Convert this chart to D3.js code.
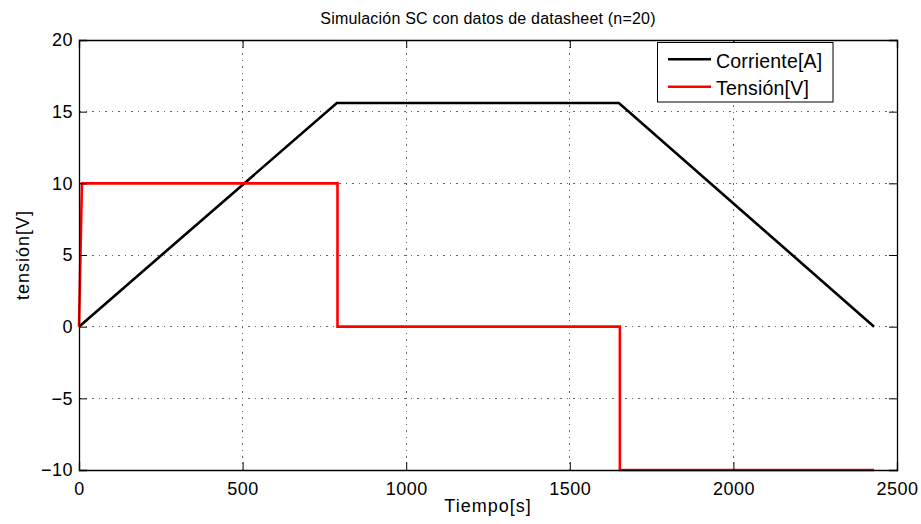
<!DOCTYPE html>
<html><head><meta charset="utf-8">
<script src="https://cdn.jsdelivr.net/npm/d3@7"></script>
<style>body{margin:0;background:#fff;} svg{display:block;font-family:"Liberation Sans",Arial,sans-serif;}</style>
</head><body>
<svg id="c" width="921" height="524"></svg>
<script>
const xTicks = [0, 500, 1000, 1500, 2000, 2500];
const yTicks = [-10, -5, 0, 5, 10, 15, 20];
const corrienteT = [0, 788, 1650, 2430];
const corrienteV = [0, 15.6, 15.6, 0];
const tensionT = [0, 9, 790, 790, 1653, 1653, 2430];
const tensionV = [0, 10, 10, 0, 0, -10, -10];
const seriesNames = ["Corriente[A]", "Tensión[V]"];
const seriesColors = ["#000000", "#ff0000"];

const svg = d3.select("#c");
const L = 79, R = 897, T = 40, B = 470;
const x = d3.scaleLinear().domain([0, 2500]).range([L, R]);
const y = d3.scaleLinear().domain([-10, 20]).range([B, T]);

// grid
const g = svg.append("g");
xTicks.forEach(t => { if (t > 0 && t < 2500) g.append("line").attr("x1", x(t)).attr("x2", x(t)).attr("y1", T).attr("y2", B).attr("stroke", "#666").attr("stroke-width", 1).attr("stroke-dasharray", "1.5,5").attr("shape-rendering","crispEdges"); });
yTicks.forEach(t => { if (t > -10 && t < 20) g.append("line").attr("x1", L).attr("x2", R).attr("y1", y(t)).attr("y2", y(t)).attr("stroke", "#666").attr("stroke-width", 1).attr("stroke-dasharray", "1.5,5").attr("shape-rendering","crispEdges"); });

// lines
const line = d3.line().x(d => x(d[0])).y(d => y(d[1]));
svg.append("path").datum(corrienteT.map((t, i) => [t, corrienteV[i]])).attr("d", line).attr("fill", "none").attr("stroke", seriesColors[0]).attr("stroke-width", 2.6);
svg.append("path").datum(tensionT.map((t, i) => [t, tensionV[i]])).attr("d", line).attr("fill", "none").attr("stroke", seriesColors[1]).attr("stroke-width", 2.6);

// axes box with inward ticks
const ax = svg.append("g");
ax.append("g").attr("transform", `translate(0,${B})`).call(d3.axisBottom(x).tickValues(xTicks).tickSize(-8).tickPadding(12.5).tickFormat(d3.format("d")));
ax.append("g").attr("transform", `translate(0,${T})`).call(d3.axisTop(x).tickValues(xTicks).tickSize(-8).tickFormat(""));
ax.append("g").attr("transform", `translate(${L},0)`).call(d3.axisLeft(y).tickValues(yTicks).tickSize(-8).tickPadding(6).tickFormat(d => d < 0 ? "\u2212" + Math.abs(d) : d));
ax.append("g").attr("transform", `translate(${R},0)`).call(d3.axisRight(y).tickValues(yTicks).tickSize(-8).tickFormat(""));
ax.selectAll(".domain").attr("stroke", "#000").attr("stroke-width", 1.3);
ax.selectAll(".tick line").attr("stroke", "#000");
ax.selectAll("text").attr("fill", "#000").attr("font-family", "'Liberation Sans',Arial,sans-serif").attr("font-size", 18).attr("letter-spacing", 0.5);

// title and labels
svg.append("text").attr("x", (L + R) / 2).attr("y", 24).attr("text-anchor", "middle").attr("font-size", 16).attr("letter-spacing", 0.2).text("Simulación SC con datos de datasheet (n=20)");
svg.append("text").attr("x", (L + R) / 2).attr("y", 512).attr("text-anchor", "middle").attr("font-size", 18).attr("letter-spacing", 1).text("Tiempo[s]");
svg.append("text").attr("transform", `translate(29,${(T + B) / 2}) rotate(-90)`).attr("text-anchor", "middle").attr("font-size", 18).attr("letter-spacing", 1).text("tensión[V]");

// legend
const lg = svg.append("g");
lg.append("rect").attr("x", 657.5).attr("y", 42.5).attr("width", 175.5).attr("height", 59.5).attr("fill", "#fff").attr("stroke", "#000").attr("stroke-width", 1);
seriesNames.forEach((n, i) => {
  const yy = 59.3 + i * 27.5;
  lg.append("line").attr("x1", 668).attr("x2", 711).attr("y1", yy).attr("y2", yy).attr("stroke", seriesColors[i]).attr("stroke-width", 2.6);
  lg.append("text").attr("x", 716).attr("y", yy + 8.3).attr("font-size", 19.5).attr("letter-spacing", 0.2).text(n);
});
</script>
</body></html>
